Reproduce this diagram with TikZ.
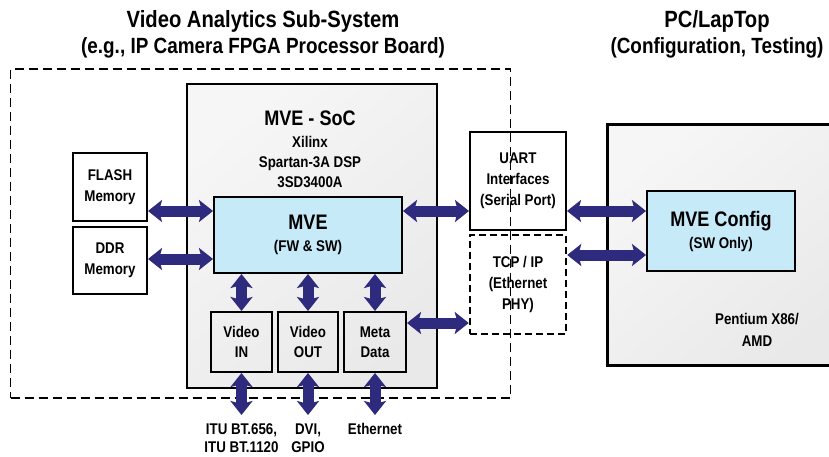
\documentclass[tikz,border=0pt]{standalone}
\usepackage{fontspec}
\setmainfont{Liberation Sans}[FakeStretch=0.86]
\usetikzlibrary{arrows.meta,positioning}
\definecolor{busblue}{HTML}{2E2A7D}
\definecolor{mveblue}{HTML}{C6EAF8}
\newcommand\mvehead{\fontsize{21}{23}\selectfont}
\newcommand\mvebody{\fontsize{15.5}{20}\selectfont}

\begin{document}
\begin{tikzpicture}
  [x=1pt,y=-1pt,font=\bfseries\mvebody,
   box_style/.style={draw,line width=2pt,align=center,inner sep=0pt},
   panel_style/.style={draw,line width=2.5pt,top color=gray!7,middle color=white,bottom color=gray!17,shading angle=40,inner sep=0pt},
   core_style/.style={draw,line width=2pt,fill=mveblue,align=center,inner sep=0pt},
   title_style/.style={align=center,font=\bfseries\fontsize{23.5}{26}\selectfont},
   port_style/.style={align=center,font=\bfseries\fontsize{15.5}{18}\selectfont},
   bus_style/.style={draw=busblue,line width=11pt,{Stealth[width=22pt,length=14pt,inset=3pt]}-{Stealth[width=22pt,length=14pt,inset=3pt]}}]
  \clip (0,0) rectangle (829,457);
  \node[title_style] (vastitle) at (263,34) {Video Analytics Sub-System\\{\fontsize{22}{26}\selectfont (e.g., IP Camera FPGA Processor Board)}};
  \node[title_style] (pctitle) at (717,34) {PC/LapTop\\{\fontsize{22}{26}\selectfont (Configuration, Testing)}};
  \node[panel_style,minimum width=250pt,minimum height=304pt] (soc) at (312,236) {};
  \node (soctitle) at (310,118) {\mvehead MVE - SoC};
  \node[align=center] (chip) at (310,162) {Xilinx\\Spartan-3A DSP\\3SD3400A};
  \node[core_style,minimum width=188pt,minimum height=76pt] (mve) at (308,235) {{\mvehead MVE}\\[2pt](FW \& SW)};
  \node[box_style,minimum width=74pt,minimum height=68pt] (flash) at (110,187) {FLASH\\[1pt]Memory};
  \node[box_style,minimum width=74pt,minimum height=67pt] (ddr) at (110,260.5) {DDR\\[1pt]Memory};
  \node[box_style,minimum width=61pt,minimum height=60pt] (vin) at (241.5,342) {Video\\IN};
  \node[box_style,minimum width=60pt,minimum height=60pt] (vout) at (308,342) {Video\\OUT};
  \node[box_style,minimum width=62pt,minimum height=60pt] (meta) at (375,342) {Meta\\Data};
  \node[box_style,minimum width=96pt,minimum height=98pt] (uart) at (518,181) {UART\\[1pt]Interfaces\\[1pt](Serial Port)};
  \node[box_style,dash pattern=on 7pt off 4pt,line width=2.5pt,minimum width=96pt,minimum height=99pt] (tcp) at (518,284.5) {TCP / IP\\[1pt](Ethernet\\[1pt]PHY)};
  \node[draw,line width=1.5pt,dash pattern=on 9pt off 5pt,minimum width=500pt,minimum height=329pt] (board) at (260.5,233.5) {};
  \node[panel_style,line width=3pt,minimum width=233pt,minimum height=240pt] (pc) at (723.5,245) {};
  \node[core_style,minimum width=148pt,minimum height=80pt] (mvecfg) at (721,231) {{\mvehead MVE Config}\\[2pt](SW Only)};
  \node[align=center] (cpu) at (757,330) {Pentium X86/\\[2pt]AMD};
  \coordinate (ituport) at (241.5,415);
  \coordinate (dviport) at (308,415);
  \coordinate (ethport) at (375,415);
  \node[port_style,below=5pt of ituport] (itulabel) {ITU BT.656,\\ITU BT.1120};
  \node[port_style,below=5pt of dviport] (dvilabel) {DVI,\\GPIO};
  \node[port_style,below=5pt of ethport] (ethlabel) {Ethernet};
  \draw[bus_style] ([yshift=-24pt]flash.east) -- ([yshift=-24pt]flash.east -| mve.west);
  \draw[bus_style] ([yshift=1.5pt]ddr.east) -- ([yshift=1.5pt]ddr.east -| mve.west);
  \draw[bus_style] ([yshift=24pt]mve.east) -- ([yshift=24pt]mve.east -| uart.west);
  \draw[bus_style] ([yshift=20pt]mvecfg.west -| uart.east) -- ([yshift=20pt]mvecfg.west);
  \draw[bus_style] ([yshift=-24pt]mvecfg.west -| tcp.east) -- ([yshift=-24pt]mvecfg.west);
  \draw[bus_style] ([yshift=19pt]meta.east) -- ([yshift=19pt]meta.east -| tcp.west);
  \draw[bus_style] (vin.north |- mve.south) -- (vin.north);
  \draw[bus_style] (vout.north |- mve.south) -- (vout.north);
  \draw[bus_style] (meta.north |- mve.south) -- (meta.north);
  \draw[bus_style] (vin.south) -- (ituport);
  \draw[bus_style] (vout.south) -- (dviport);
  \draw[bus_style] (meta.south) -- (ethport);
\end{tikzpicture}
\end{document}
